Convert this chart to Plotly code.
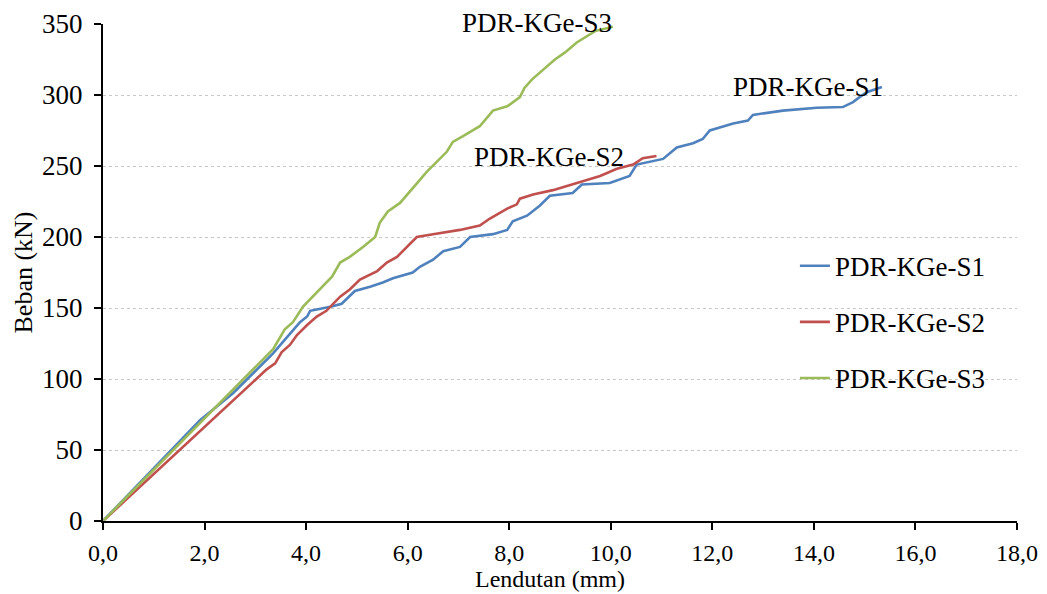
import plotly.graph_objects as go

# Data
s1_x = [0, 1.91, 2.56, 3.09, 3.35, 3.54, 3.72, 3.88, 4.02, 4.08, 4.21, 4.5, 4.7, 4.82, 4.96,
        5.26, 5.51, 5.71, 6.1, 6.24, 6.5, 6.7, 7.03, 7.23, 7.68, 7.96, 8.07, 8.35, 8.6, 8.8,
        9.0, 9.25, 9.43, 9.98, 10.37, 10.51, 11.03, 11.3, 11.62, 11.81, 11.95, 12.41, 12.7,
        12.8, 13.39, 14.06, 14.57, 14.77, 14.9, 15.04, 15.34]
s1_y = [0, 71, 90, 109, 118, 126, 133, 140, 144, 148, 149, 151, 153, 157, 162,
        165, 168, 171, 175, 179, 184, 190, 193, 200, 202, 205, 211, 215, 222, 229,
        230, 231, 237, 238, 243, 251, 255, 263, 266, 269, 275, 280, 282,
        286, 289, 291, 291.5, 295, 298.5, 302, 305.6]

s2_x = [0, 3.23, 3.39, 3.52, 3.68, 3.82, 4.02, 4.21, 4.4, 4.67, 4.86, 5.06, 5.4, 5.59, 5.79,
        5.99, 6.18, 6.5, 7.03, 7.42, 7.62, 7.96, 8.15, 8.21, 8.47, 8.86, 9.33, 9.79, 10.12,
        10.44, 10.63, 10.9]
s2_y = [0, 107, 111, 119, 124, 131, 138, 144, 148, 158, 163, 170, 176, 182, 186,
        193, 200, 202, 205, 208, 213, 220, 223, 227, 230, 233, 238, 243, 248,
        251, 255.5, 257]

s3_x = [0, 3.35, 3.58, 3.74, 3.94, 4.08, 4.27, 4.51, 4.67, 4.86, 5.12, 5.36, 5.45, 5.61,
        5.85, 6.14, 6.38, 6.77, 6.89, 7.09, 7.42, 7.68, 7.96, 8.21, 8.3, 8.45, 8.67, 8.9,
        9.1, 9.33, 9.69, 10.04]
s3_y = [0, 121, 135, 140, 151, 156, 163, 172, 182, 186, 193, 200, 210, 218,
        224, 236, 246, 260, 267, 271, 278, 289, 292, 298.5, 305, 311, 318, 325,
        330, 337, 345, 348]

names = ["PDR-KGe-S1", "PDR-KGe-S2", "PDR-KGe-S3"]
colors = ["#4F81BD", "#C0504D", "#9BBB59"]

x_ticks = [0, 2, 4, 6, 8, 10, 12, 14, 16, 18]
x_tick_labels = ["0,0", "2,0", "4,0", "6,0", "8,0", "10,0", "12,0", "14,0", "16,0", "18,0"]
y_ticks = [0, 50, 100, 150, 200, 250, 300, 350]

x_title = "Lendutan (mm)"
y_title = "Beban (kN)"

# label positions (data coords) and small vertical pixel offsets
label_x = [13.88, 8.78, 8.55]
label_y = [306, 256, 348]
label_shift = [-1, 0, 4]

FONT = "Liberation Serif, Times New Roman, serif"

fig = go.Figure()
for i, (xs, ys) in enumerate([(s1_x, s1_y), (s2_x, s2_y), (s3_x, s3_y)]):
    fig.add_trace(go.Scatter(x=xs, y=ys, mode="lines", name=names[i],
                             legendgroup=names[i],
                             line=dict(color=colors[i], width=2.6)))
    fig.add_annotation(x=label_x[i], y=label_y[i], yshift=label_shift[i], text=names[i],
                       showarrow=False, xref="x", yref="y",
                       font=dict(family=FONT, size=27, color="black"))

# x-axis title placed just under the tick labels
fig.add_annotation(x=0.5, y=0, xref="paper", yref="paper", yanchor="middle",
                   yshift=-58, xshift=-10, text=x_title, showarrow=False,
                   font=dict(family=FONT, size=24, color="black"))

fig.update_layout(
    width=1047, height=594,
    margin=dict(l=103, r=30, t=24, b=73),
    plot_bgcolor="white", paper_bgcolor="white",
    font=dict(family=FONT, size=27, color="black"),
    showlegend=True,
    legend=dict(x=0.757, y=0.40, xanchor="left", yanchor="middle",
                font=dict(family=FONT, size=27, color="black"),
                tracegroupgap=18, bgcolor="rgba(0,0,0,0)"),
    xaxis=dict(range=[0, 18], tickvals=x_ticks, ticktext=x_tick_labels,
               showgrid=False, zeroline=False, showline=True, linecolor="black",
               linewidth=2, ticks="outside", ticklen=7, tickwidth=2, tickcolor="black",
               ticklabelstandoff=2, automargin=False,
               tickfont=dict(family=FONT, size=24)),
    yaxis=dict(range=[0, 350], tickvals=y_ticks,
               showgrid=True, gridcolor="#C8C8C8", griddash="dot", gridwidth=1,
               zeroline=False, showline=True, linecolor="black",
               linewidth=2, ticks="outside", ticklen=7, tickwidth=2, tickcolor="black",
               ticklabelstandoff=6, automargin=False,
               title=dict(text=y_title, font=dict(family=FONT, size=26), standoff=2),
               tickfont=dict(family=FONT, size=27)),
)

fig.write_html("out.html")
